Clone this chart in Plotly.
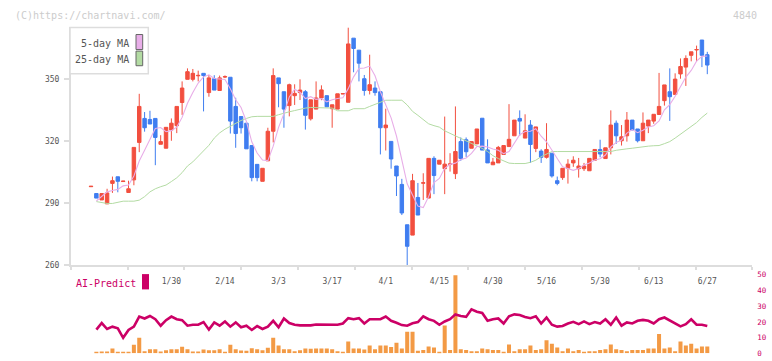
import plotly.graph_objects as go

W, H = 772, 361

# ---------------- data ----------------
idx = list(range(116))
tick_idx = [15, 25, 35, 45, 55, 65, 75, 85, 95, 105, 115]
tick_text = ["1/30", "2/14", "3/3", "3/17", "4/1", "4/15", "4/30", "5/16", "5/30", "6/13", "6/27"]

open_ = [298, 294.7, 291.6, 289.7, 299.6, 302.8, 300.5, 295.2, 301.3, 319.4,
         331, 330.5, 331, 318.5, 316.6, 325.4, 327.5, 338.7, 349.9, 349.9,
         351.6, 352.8, 343.5, 350.2, 344.5, 351.0, 350.9, 336.8, 331.9, 328.7,
         317.9, 308.8, 300.6, 310.5, 324.8, 350.6, 343.9, 337.2, 342, 343.5,
         343.9, 330.8, 335.5, 340.9, 342, 335.7, 335.5, 342.8, 338.8, 369.8,
         364, 350.2, 344.5, 345.7, 343.9, 326.5, 319.9, 308, 299.1, 279.6,
         274.6, 292.8, 299.7, 292.5, 311.7, 308.9, 306.7, 308.8, 304.3, 319.8,
         320.7, 316.6, 318.7, 331.1, 315.8, 308.6, 309.5, 313.6, 317.4, 322.6,
         331, 321.5, 327.8, 316.5, 315.2, 312.2, 314.2, 300.9, 302.4, 306.9,
         309.5, 306.7, 306.7, 305.7, 310.8, 316, 311.6, 316.8, 328.7, 320.2,
         322.6, 330.2, 325.9, 320.2, 327.3, 329.7, 332.9, 339.6, 343.9, 342.6,
         352.5, 355.8, 361.5, 364.1, 368.9, 361.8]
high = [298.2, 294.7, 294.7, 297, 302.9, 302.8, 300.7, 300.9, 317, 342.9,
        334.1, 334.7, 331, 322.9, 326.7, 331, 336.8, 348.9, 355.2, 354.9,
        354.1, 352.8, 352, 351.9, 351.7, 351.8, 350.9, 341, 331.9, 328.7,
        317.9, 308.8, 306.9, 326.5, 355.2, 350.6, 343.9, 347.8, 347.5, 349.9,
        344.7, 340, 348.9, 347, 342, 337.6, 342.9, 343, 375, 369.8,
        364, 352, 361.8, 348.9, 343.9, 335.7, 319.9, 308, 301.8, 279.6,
        304.2, 299.8, 304.5, 311.7, 312.7, 310.8, 331.9, 314.2, 336.8, 321.8,
        321.8, 319.8, 325.9, 331.1, 320.9, 311.9, 317.7, 317.9, 337.9, 330.2,
        334.9, 333, 330.2, 326.9, 316.1, 328.7, 314.2, 302.9, 306.9, 311.3,
        312.7, 311.9, 309.5, 311.7, 316, 320.7, 316.8, 334.9, 330, 327.8,
        334.1, 330.2, 325.9, 333.9, 330.2, 333, 353, 347.2, 355.2, 352.8,
        360, 361.5, 363.2, 366.2, 368.9, 363.2]
low = [298, 292.5, 291.6, 289.7, 295, 295.3, 300.5, 295.2, 298.7, 314.7,
       324.6, 328.3, 308.4, 318.5, 316.6, 320.2, 323.9, 332.7, 349.9, 348.9,
       348.9, 334.4, 341.5, 344.7, 344.5, 350.5, 323.7, 316.8, 323.7, 316.3,
       300.6, 300.6, 300.6, 310.5, 319.4, 336.4, 326.5, 332, 337.5, 339.9,
       325.6, 330, 335.5, 339.8, 336.6, 326.5, 335.5, 342.8, 338.8, 353.3,
       348.9, 342, 342.6, 342, 313.6, 315.5, 306.7, 293.5, 284.3, 259.6,
       274.6, 284.3, 291.6, 292.5, 294.4, 308.9, 294.4, 305.3, 301.7, 310.5,
       312.4, 316.6, 318.7, 315.7, 309.5, 308.6, 309.5, 313.6, 317.4, 322.6,
       322.6, 321.5, 309.5, 314.7, 309.5, 311.6, 302.4, 298.7, 301.3, 299.5,
       307.6, 302.4, 305.6, 305.7, 310.8, 312.2, 311.6, 313.6, 318.7, 317.9,
       319.8, 325.4, 319.4, 320.2, 323.9, 328.4, 332.9, 337.2, 329.8, 342.6,
       350.2, 346.7, 358.6, 358.5, 355.8, 352.4]
close = [298.2, 292.5, 294.7, 295, 300.9, 300.6, 300.7, 297, 317, 336.8,
         326.5, 328.3, 321.8, 319.8, 326.7, 328.7, 336.8, 345.7, 353.6, 352.8,
         351.8, 351.7, 350.6, 344.7, 350.6, 351.2, 329.7, 323.7, 326.5, 316.3,
         302.4, 302.4, 306.9, 324.8, 351.7, 347.8, 335.5, 347.3, 343.1, 344.7,
         332.5, 340, 340.9, 344.8, 336.6, 337.6, 342.9, 343, 367, 364.8,
         357.7, 344.5, 347.3, 343.5, 326.5, 327.8, 311.4, 303.2, 285.3, 269.2,
         300.9, 284.3, 299.9, 311.7, 303.4, 310.8, 308.9, 309, 315, 311.6,
         314.9, 319.8, 325.9, 315.7, 309.5, 309.9, 317, 317.9, 320.9, 330.2,
         329.7, 325, 318.4, 326.9, 312.2, 316, 303.2, 299.6, 306.9, 308.9,
         310.8, 308, 308, 311.7, 316, 313.8, 316.8, 327.8, 322.6, 322.1,
         330.2, 325.4, 320.2, 328.7, 330.2, 333, 336.8, 347.2, 341.5, 350,
         356.1, 360, 363.2, 364.3, 361.5, 356.8]

ma5 = [None, 291.1, 293.5, 295.5, 296.2, 296.7, 298.4, 298.8, 303.2, 310.4,
       315.6, 321.1, 326.1, 326.6, 324.6, 325.1, 326.8, 331.5, 338.3, 343.5,
       348.1, 351.1, 352.1, 350.3, 349.9, 349.8, 345.4, 340.0, 336.3, 329.5,
       319.7, 314.3, 310.9, 310.6, 317.6, 326.7, 333.3, 341.4, 345.1, 343.7,
       340.6, 341.5, 340.2, 340.6, 339.0, 340.0, 340.6, 341.0, 345.4, 351.1,
       355.1, 355.4, 356.3, 351.6, 343.9, 337.9, 331.3, 322.5, 310.8, 299.4,
       294.0, 288.6, 287.9, 293.2, 300.0, 302.0, 306.9, 308.8, 309.4, 311.1,
       311.9, 314.1, 317.4, 317.6, 317.2, 316.2, 315.6, 314.0, 315.0, 319.2,
       323.1, 324.7, 324.8, 326.0, 322.4, 319.7, 315.3, 311.6, 307.6, 306.9,
       305.9, 306.8, 308.5, 309.5, 310.9, 311.5, 313.3, 317.2, 319.4, 320.6,
       323.9, 325.6, 324.1, 325.3, 326.9, 327.5, 329.8, 335.2, 337.7, 341.7,
       346.3, 351.0, 354.2, 358.7, 361.0, 361.2]

ma25 = [None, 290.8, 290.2, 289.9, 289.9, 290.5, 291, 291, 291, 291.5,
        293.2, 295.5, 297, 298, 298.8, 300.5, 302.3, 304.8, 308, 310,
        312.5, 315, 318, 321.5, 324, 325.8, 327.3, 328.5, 330, 331,
        331.8, 332, 332, 332, 332, 332.8, 333.6, 334.2, 334.8, 335.5,
        336, 336.3, 336.3, 336.2, 336.1, 336, 334.7, 334.7, 334.7, 335.7,
        335.7, 335.7, 336.8, 337.9, 339, 339.8, 339.8, 339.8, 339.8, 337.5,
        334.4, 332.5, 330.5, 328.4, 327.5, 326.8, 325, 323.8, 322.6, 321.2,
        320.2, 319.2, 318, 316.5, 315, 313, 311.6, 310.5, 309.4, 309.2,
        309.2, 309.2, 309.8, 310.8, 312.5, 313.8, 315, 315, 315, 315,
        315, 315, 315, 315, 315, 315, 315, 315, 315.6, 315.8,
        316.3, 316.6, 317, 317.3, 317.6, 317.8, 317.9, 318.8, 319.8, 321.5,
        323.3, 325, 326.8, 329, 331.5, 333.6]

volume = [None, 0.8, 1.2, 1.2, 3.1, 0.5, 0.5, 0.5, 5.5, 9.9,
          1.4, 2.6, 2.6, 1.2, 2.0, 2.6, 2.6, 4.2, 2.6, 1.2,
          1.2, 2.4, 2.0, 2.0, 2.6, 1.0, 5.5, 2.6, 1.8, 1.6,
          3.3, 2.6, 2.0, 3.6, 9.9, 5.0, 2.6, 2.6, 1.4, 2.0,
          3.1, 2.9, 3.1, 3.1, 3.1, 2.6, 1.4, 0.4, 7.5, 3.1,
          3.1, 2.5, 5.0, 2.6, 5.0, 5.0, 4.1, 6.8, 3.1, 13.8,
          13.8, 1.6, 2.1, 4.3, 3.7, 0.6, 17.8, 2.1, 49.7, 2.7,
          2.1, 1.4, 1.4, 3.1, 2.7, 2.1, 2.1, 0.6, 5.6, 1.4,
          2.7, 2.7, 5.0, 2.1, 2.7, 8.3, 6.2, 3.7, 1.4, 3.1,
          1.4, 2.1, 0.6, 1.4, 1.4, 2.1, 2.7, 5.6, 2.7, 2.1,
          1.4, 2.1, 2.1, 2.1, 3.1, 3.1, 12.4, 3.1, 3.7, 1.4,
          7.5, 5.0, 6.2, 3.1, 4.3, 4.3]

ai_predict = [None, 15.1, 19.3, 15.5, 17.0, 15.9, 9.9, 14.9, 17.0, 23.4,
              22.2, 23.8, 21.7, 17.6, 21.1, 23.4, 21.7, 21.1, 17.6, 18.2,
              18.2, 19.9, 15.1, 19.7, 17.6, 20.3, 17.0, 19.7, 16.6, 17.6,
              14.9, 17.4, 15.5, 17.0, 20.7, 16.6, 22.2, 19.3, 18.2, 17.8,
              17.8, 17.8, 18.4, 18.4, 18.2, 18.2, 18.2, 19.0, 22.4, 21.7,
              22.4, 19.0, 21.7, 21.7, 21.7, 23.4, 20.7, 19.5, 18.0, 17.6,
              19.1, 19.9, 23.6, 21.7, 20.7, 18.2, 20.3, 21.7, 24.8, 23.8,
              23.2, 28.0, 26.5, 25.7, 20.7, 21.7, 22.2, 19.0, 23.6, 24.8,
              24.4, 23.2, 22.4, 23.6, 19.0, 22.8, 18.2, 17.0, 17.4, 19.0,
              20.1, 18.6, 20.3, 18.6, 19.9, 19.0, 21.7, 18.2, 22.8, 17.6,
              19.7, 19.0, 20.7, 21.3, 20.7, 19.0, 21.7, 22.8, 21.1, 19.0,
              17.2, 18.6, 21.7, 18.2, 18.2, 17.4]

# ---------------- styles ----------------
RED = "#f24f3f"
BLUE = "#3f7df0"
PINK = "#e8aee8"
GREEN = "#b3dba3"
ORANGE = "#f39a45"
MAGENTA = "#cc0066"
AXIS = "#dddddd"
TXT = "#555555"
MONO = "DejaVu Sans Mono"


def px(x):
    return x / W


def py(y):
    return 1 - y / H


x_dom = [px(70.7), px(752.3)]
x_rng = [-3.79, 123.4]

fig = go.Figure()

fig.add_trace(go.Scatter(x=idx, y=ma25, mode="lines", line=dict(color=GREEN, width=1),
                         hoverinfo="skip", xaxis="x", yaxis="y"))
fig.add_trace(go.Scatter(x=idx, y=ma5, mode="lines", line=dict(color=PINK, width=1.1),
                         hoverinfo="skip", xaxis="x", yaxis="y"))
fig.add_trace(go.Candlestick(
    x=idx, open=open_, high=high, low=low, close=close,
    increasing=dict(line=dict(color=RED, width=1), fillcolor=RED),
    decreasing=dict(line=dict(color=BLUE, width=1), fillcolor=BLUE),
    whiskerwidth=0, xaxis="x", yaxis="y"))
fig.add_trace(go.Scatter(x=[], y=[], xaxis="x3", yaxis="y", hoverinfo="skip"))

fig.add_trace(go.Bar(x=idx, y=volume, marker=dict(color=ORANGE, line=dict(width=0)),
                     width=0.75, xaxis="x2", yaxis="y2"))
fig.add_trace(go.Scatter(x=idx, y=ai_predict, mode="lines", line=dict(color=MAGENTA, width=2.6),
                         xaxis="x2", yaxis="y2"))

fig.update_layout(
    width=W, height=H, autosize=False,
    margin=dict(l=0, r=0, t=0, b=0),
    paper_bgcolor="white", plot_bgcolor="white",
    showlegend=False, boxgap=0.08,
    font=dict(family=MONO, color=TXT, size=8),
    xaxis=dict(domain=x_dom, range=x_rng, anchor="y", rangeslider=dict(visible=False),
               tickmode="array", tickvals=tick_idx, ticktext=tick_text, ticks="",
               showline=False, showgrid=False, zeroline=False, ticklabelstandoff=10,
               tickfont=dict(family=MONO, size=8, color=TXT)),
    xaxis3=dict(domain=x_dom, range=[0, 12], overlaying="x", anchor="y", side="bottom",
                tickmode="array", tickvals=list(range(13)), showticklabels=False,
                ticks="outside", ticklen=3, tickcolor=AXIS, tickwidth=1.5,
                showline=True, linecolor=AXIS, linewidth=1.5, showgrid=False, zeroline=False),
    yaxis=dict(domain=[py(268), py(24)], range=[260, 375], anchor="x",
               tickmode="array", tickvals=[260, 290, 320, 350],
               ticks="outside", ticklen=5, tickcolor=AXIS, tickwidth=1.5,
               showline=True, linecolor=AXIS, linewidth=1.5, showgrid=False, zeroline=False,
               ticklabelstandoff=3, tickfont=dict(family=MONO, size=8, color=TXT)),
    xaxis2=dict(domain=x_dom, range=x_rng, anchor="y2", matches="x",
                showticklabels=False, ticks="", showline=False, showgrid=False, zeroline=False),
    yaxis2=dict(domain=[py(358.3), py(277.7)], range=[0, 50], anchor="x2", side="right",
                tickmode="array", tickvals=[0, 10, 20, 30, 40, 50], ticks="",
                showline=False, showgrid=False, zeroline=False, ticklabelstandoff=4,
                tickfont=dict(family=MONO, size=7.5, color=MAGENTA)),
)

shapes = [
    dict(type="rect", xref="paper", yref="paper", x0=px(70), x1=px(148.3), y0=py(71.5), y1=py(24),
         line=dict(color=AXIS, width=1.5), fillcolor="white", layer="above"),
    dict(type="rect", xref="paper", yref="paper", x0=px(136), x1=px(142.7), y0=py(46.7), y1=py(31.3),
         line=dict(color="#666666", width=1), fillcolor=PINK, layer="above"),
    dict(type="rect", xref="paper", yref="paper", x0=px(136), x1=px(142.7), y0=py(63.3), y1=py(48.3),
         line=dict(color="#666666", width=1), fillcolor=GREEN, layer="above"),
    dict(type="rect", xref="paper", yref="paper", x0=px(142), x1=px(149), y0=py(292.7), y1=py(277),
         line=dict(width=0), fillcolor=MAGENTA, layer="above"),
]
fig.update_layout(shapes=shapes)

annotations = [
    dict(text="(C)https://chartnavi.com/", x=px(14), y=py(12.3), xanchor="left", yanchor="middle",
         font=dict(family=MONO, size=10, color="#cccccc")),
    dict(text="4840", x=px(757.5), y=py(12.3), xanchor="right", yanchor="middle",
         font=dict(family=MONO, size=10, color="#cccccc")),
    dict(text="5-day MA", x=px(129.8), y=py(40), xanchor="right", yanchor="middle",
         font=dict(family=MONO, size=10, color=TXT)),
    dict(text="25-day MA", x=px(129.8), y=py(56.6), xanchor="right", yanchor="middle",
         font=dict(family=MONO, size=10, color=TXT)),
    dict(text="AI-Predict", x=px(75.2), y=py(286.3), xanchor="left", yanchor="middle",
         font=dict(family=MONO, size=10, color=MAGENTA)),
]
for a in annotations:
    a.update(xref="paper", yref="paper", showarrow=False, borderpad=0)
fig.update_layout(annotations=annotations)

fig.write_html(
    "out.html",
    config={"displayModeBar": False},
    post_script="document.body.style.margin='0';document.body.style.padding='0';"
                "document.body.style.overflow='hidden';",
)
